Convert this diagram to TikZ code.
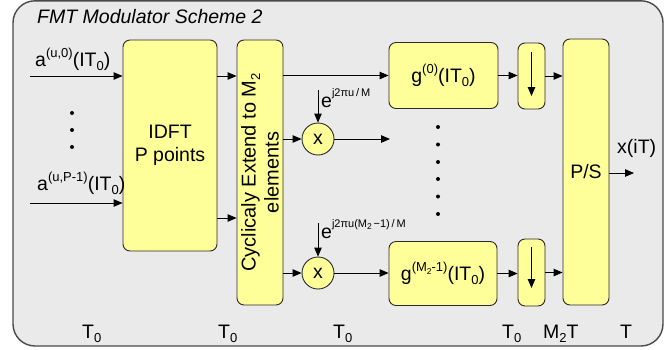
\documentclass[tikz,border=0pt]{standalone}
\usepackage{fontspec}
\setmainfont{Liberation Sans}
\usetikzlibrary{arrows.meta}
\definecolor{bgc}{HTML}{EAEAEA}
\definecolor{boxc}{HTML}{FFFF99}
\definecolor{edgec}{HTML}{2A2A2A}
\newcommand\upsc[1]{\raisebox{0.42em}{\fontsize{13}{13}\selectfont #1}}
\newcommand\dnsc[1]{\raisebox{-0.22em}{\fontsize{13}{13}\selectfont #1}}
\newcommand\esup[1]{\raisebox{0.55em}{\fontsize{11}{11}\selectfont #1}}
\newcommand\dnss[1]{\raisebox{-0.2em}{\fontsize{8.5}{9}\selectfont #1}}
\begin{document}
\begin{tikzpicture}[x=1pt,y=-1pt,
  font=\fontsize{19.5}{22}\selectfont,
  box/.style={draw=edgec, fill=boxc, line width=0.9pt, rounded corners=7pt, inner sep=0pt},
  mult/.style={circle, draw=edgec, fill=boxc, line width=0.9pt, minimum size=32pt, inner sep=0pt},
  arr/.style={line width=0.9pt, draw=black, -{Triangle[length=9pt,width=7.5pt]}},
  dotc/.style={circle, fill=black, inner sep=0pt, minimum size=4pt},
  lbl/.style={anchor=base west, inner sep=0pt}]
\useasboundingbox (0,0) rectangle (672,349);
\draw[fill=bgc, draw=edgec!85, line width=1.4pt, rounded corners=22pt] (13,0.8) rectangle (663,346);
\node[lbl, font=\fontsize{19.5}{22}\selectfont\itshape] (title) at (37,23) {FMT Modulator Scheme 2};

% blocks
\node[box, minimum width=94pt, minimum height=211pt, align=center, font=\fontsize{19.5}{23}\selectfont] (idft) at (170,145.5) {IDFT\\P points};
\node[box, minimum width=46pt, minimum height=265pt] (cyc) at (260,172.5) {};
\node[rotate=90, align=center, inner sep=0pt, font=\fontsize{20}{23}\selectfont] (cyctxt) at (cyc.center) {Cyclicaly Extend to M\dnsc{2}\\elements};
\node[box, minimum width=109pt, minimum height=66pt] (g0) at (443.5,75.5) {g\upsc{(0)}(IT\dnsc{0})};
\node[box, minimum width=108pt, minimum height=64pt] (g1) at (443,273.5) {g\upsc{(M\dnss{2}-1)}(IT\dnsc{0})};
\node[box, minimum width=27pt, minimum height=66pt] (d0) at (531.5,76) {};
\node[box, minimum width=27pt, minimum height=67pt] (d1) at (531.5,272.5) {};
\node[box, minimum width=46pt, minimum height=266pt] (ps) at (586,172) {P/S};
\node[mult] (m1) at (318,139) {x};
\node[mult] (m2) at (318,273) {x};

% coordinates
\coordinate (a0) at (30,76);
\coordinate (a1) at (30,203);
\coordinate (r1) at (0,218);
\coordinate (m1o) at (390,139);
\coordinate (xo) at (634,173);
\coordinate (e0) at (318,90);
\coordinate (e1) at (318,223);
\coordinate (d0t) at (531.5,52);
\coordinate (d0b) at (531.5,96);
\coordinate (d1t) at (531.5,247);
\coordinate (d1b) at (531.5,288);

% connectors
\draw[arr] (a0) -- (a0 -| idft.west);
\draw[arr] (a1) -- (a1 -| idft.west);
\draw[arr] (idft.east |- a0) -- (cyc.west |- a0);
\draw[arr] (idft.east |- r1) -- (cyc.west |- r1);
\draw[arr] (cyc.east |- g0.west) -- (g0.west);
\draw[arr] (cyc.east |- m1) -- (m1.west);
\draw[arr] (m1.east) -- (m1o);
\draw[arr] (cyc.east |- m2) -- (m2.west);
\draw[arr] (m2.east) -- (g1.west |- m2);
\draw[arr] (g0.east) -- (d0.west |- g0.east);
\draw[arr] (d0.east) -- (ps.west |- d0.east);
\draw[arr] (g1.east) -- (d1.west |- g1.east);
\draw[arr] (d1.east) -- (ps.west |- d1.east);
\draw[arr] (ps.east |- xo) -- (xo);
\draw[arr] (e0) -- (m1.north);
\draw[arr] (e1) -- (m2.north);
\draw[arr] (d0t) -- (d0b);
\draw[arr] (d1t) -- (d1b);

% dots
\foreach \yy [count=\i] in {113,130,147} \node[dotc] (pd\i) at (72,\yy) {};
\foreach \yy [count=\i] in {127,144.5,162,179,196.5,214} \node[dotc] (gd\i) at (438,\yy) {};

% labels
\node[lbl] (la0) at (35,66) {a\upsc{(u,0)}(IT\dnsc{0})};
\node[lbl] (la1) at (37,190) {a\upsc{(u,P-1)}(IT\dnsc{0})};
\node[lbl] (le0) at (321,107) {e\esup{j2πu\,/\,M}};
\node[lbl] (le1) at (321,238) {e\esup{j2πu(M\dnss{2}\,−1)\,/\,M}};
\node[lbl] (lx) at (617,153) {x(iT)};
\node[lbl] (t1) at (82,338) {T\dnsc{0}};
\node[lbl] (t2) at (218,338) {T\dnsc{0}};
\node[lbl] (t3) at (333,338) {T\dnsc{0}};
\node[lbl] (t4) at (502,338) {T\dnsc{0}};
\node[lbl] (t5) at (543,338) {M\dnsc{2}T};
\node[lbl] (t6) at (620,338) {T};
\end{tikzpicture}
\end{document}
